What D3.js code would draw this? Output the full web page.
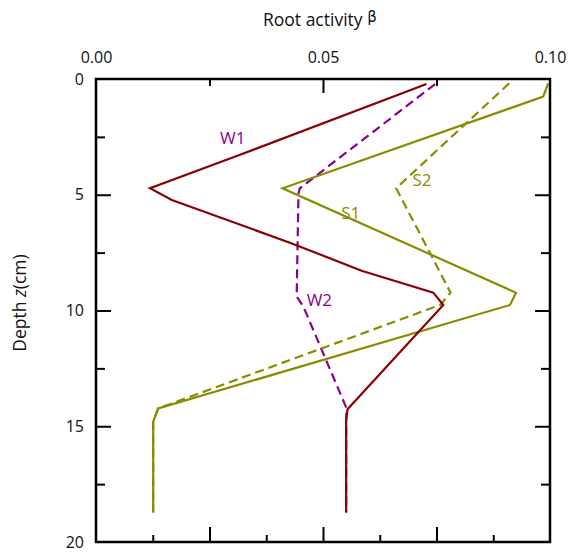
<!DOCTYPE html>
<html>
  <head>
    <style>
      body { margin: 0; background: #fff; }
      text { font-family: "Open Sans", "Noto Sans", sans-serif; }
    </style>
  </head>
  <body>
    <script src="https://d3js.org/d3.v7.min.js"></script>
    <script>
      // data: depth (cm) and root activity for each profile
      const w1Depth = [0.22, 3.33, 4.72, 5.23, 7.07, 8.28, 9.23, 9.76, 14.27, 14.73, 18.73];
      const w1Beta  = [0.0728, 0.0310, 0.0119, 0.0167, 0.0427, 0.0585, 0.0743, 0.0765, 0.0554, 0.0551, 0.0551];
      const w2Depth = [0.22, 4.72, 4.94, 9.4, 9.84, 14.23, 14.73, 18.73];
      const w2Beta  = [0.0747, 0.0449, 0.0446, 0.0442, 0.0457, 0.0552, 0.0551, 0.0551];
      const s1Depth = [0.19, 0.76, 4.72, 9.23, 9.76, 14.23, 14.8, 18.73];
      const s1Beta  = [0.0996, 0.0985, 0.0411, 0.0925, 0.0912, 0.0137, 0.0126, 0.0126];
      const s2Depth = [0.19, 4.72, 7.53, 9.23, 9.76, 14.23, 14.8, 18.73];
      const s2Beta  = [0.0910, 0.0661, 0.0736, 0.0781, 0.0758, 0.0137, 0.0126, 0.0126];
      const xTickLabels = [0, 0.05, 0.1];
      const yTickLabels = [0, 5, 10, 15, 20];

      const W = 568, H = 555;
      const mLeft = 96, mRight = 550, mTop = 79, mBottom = 542;
      const svg = d3.select("body").append("svg").attr("width", W).attr("height", H);

      const x = d3.scaleLinear().domain([0, 0.1]).range([mLeft, mRight]);
      const y = d3.scaleLinear().domain([0, 20]).range([mTop, mBottom]);

      const red = "#8b0000", purple = "#8b008b", olive = "#8b8b00";

      // inward ticks
      function ticks(axis, pos, vals, size) {
        svg.append("g")
          .attr("transform", pos)
          .call(axis.tickValues(vals).tickSize(-size).tickFormat(""))
          .call(g => g.select(".domain").remove())
          .call(g => g.selectAll("line").attr("stroke", "#000").attr("stroke-width", 2));
      }
      ticks(d3.axisTop(x), `translate(0,${mTop})`, [0.025, 0.075], 7);
      ticks(d3.axisTop(x), `translate(0,${mTop})`, [0.05], 14);
      ticks(d3.axisBottom(x), `translate(0,${mBottom})`, [0.0125, 0.0375, 0.0625, 0.0875], 7);
      ticks(d3.axisBottom(x), `translate(0,${mBottom})`, [0.025, 0.05, 0.075], 15);
      ticks(d3.axisLeft(y), `translate(${mLeft},0)`, [2.5, 7.5, 12.5, 17.5], 9);
      ticks(d3.axisLeft(y), `translate(${mLeft},0)`, [5, 10, 15], 15);
      ticks(d3.axisRight(y), `translate(${mRight},0)`, [2.5, 7.5, 12.5, 17.5], 9);
      ticks(d3.axisRight(y), `translate(${mRight},0)`, [5, 10, 15], 15);

      // tick labels
      svg.append("g")
        .attr("transform", `translate(0,${mTop})`)
        .call(d3.axisTop(x).tickValues(xTickLabels).tickFormat(d3.format(".2f")).tickSize(0).tickPadding(16))
        .call(g => g.select(".domain").remove())
        .call(g => g.selectAll("text").attr("font-size", 16).attr("fill", "#111")
          .attr("font-family", "'Open Sans', 'Noto Sans', sans-serif"));
      svg.append("g")
        .attr("transform", `translate(${mLeft},0)`)
        .call(d3.axisLeft(y).tickValues(yTickLabels).tickFormat(d3.format("d")).tickSize(0).tickPadding(12))
        .call(g => g.select(".domain").remove())
        .call(g => g.selectAll("text").attr("font-size", 16).attr("fill", "#111")
          .attr("font-family", "'Open Sans', 'Noto Sans', sans-serif"));

      // profiles
      const line = d3.line().x(d => x(d[1])).y(d => y(d[0]));
      const series = [
        { depth: w2Depth, beta: w2Beta, color: purple, dash: "9,5" },
        { depth: s2Depth, beta: s2Beta, color: olive, dash: "9,5" },
        { depth: s1Depth, beta: s1Beta, color: olive, dash: null },
        { depth: w1Depth, beta: w1Beta, color: red, dash: null }
      ];
      series.forEach(s => {
        svg.append("path")
          .datum(d3.zip(s.depth, s.beta))
          .attr("d", line)
          .attr("fill", "none")
          .attr("stroke", s.color)
          .attr("stroke-width", 2.2)
          .attr("stroke-dasharray", s.dash);
      });

      // frame
      svg.append("rect")
        .attr("x", mLeft).attr("y", mTop)
        .attr("width", mRight - mLeft).attr("height", mBottom - mTop)
        .attr("fill", "none").attr("stroke", "#000").attr("stroke-width", 2.5);

      // series labels
      const labels = [
        { t: "W1", b: 0.0301, d: 2.55, c: purple },
        { t: "S2", b: 0.0718, d: 4.36, c: olive },
        { t: "S1", b: 0.0561, d: 5.78, c: olive },
        { t: "W2", b: 0.0492, d: 9.55, c: purple }
      ];
      svg.selectAll(".lbl").data(labels).join("text")
        .attr("x", d => x(d.b)).attr("y", d => y(d.d))
        .attr("dy", "0.35em")
        .attr("text-anchor", "middle")
        .attr("font-size", 17)
        .attr("fill", d => d.c)
        .text(d => d.t);

      // axis titles
      const t = svg.append("text")
        .attr("x", 263).attr("y", 26)
        .attr("font-size", 17.5).attr("fill", "#111");
      t.append("tspan").text("Root activity ");
      t.append("tspan").attr("dy", -4).attr("font-family", "'DejaVu Sans', sans-serif").attr("font-size", 15).text("β");

      const yl = svg.append("text")
        .attr("transform", `translate(26,303) rotate(-90)`)
        .attr("text-anchor", "middle")
        .attr("font-size", 17.5).attr("fill", "#111");
      yl.append("tspan").text("Depth  ");
      yl.append("tspan").attr("font-style", "italic").text("z");
      yl.append("tspan").text("(cm)");
    </script>
  </body>
</html>
